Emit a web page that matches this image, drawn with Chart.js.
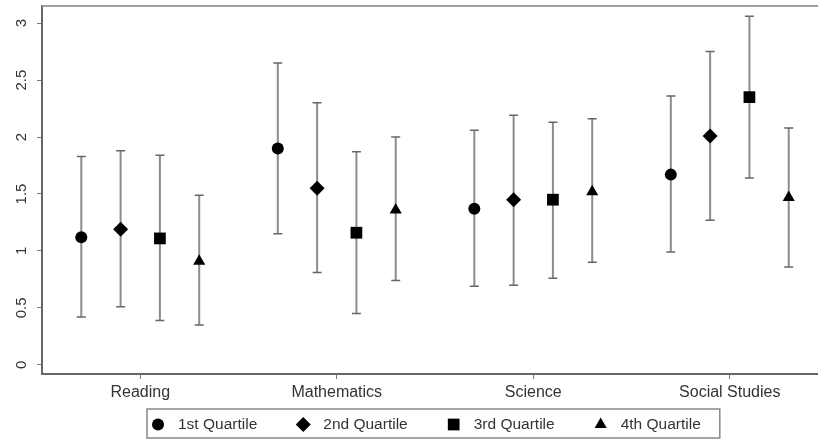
<!DOCTYPE html>
<html>
<head>
<meta charset="utf-8">
<script src="https://cdn.jsdelivr.net/npm/chart.js@4.4.0/dist/chart.umd.min.js"></script>
<style>
html, body { margin: 0; padding: 0; background: #fff; overflow: hidden; }
canvas { display: block; }
</style>
</head>
<body>
<canvas id="graficoQuartis" width="818" height="440"></canvas>
<script>
var categorias = ['Reading', 'Mathematics', 'Science', 'Social Studies'];
var quartis = ['1st Quartile', '2nd Quartile', '3rd Quartile', '4th Quartile'];

// estimativa e intervalo (baixo / alto) por quartil, na ordem das categorias
var q1Est = [1.12, 1.90, 1.37, 1.67];
var q1Low = [0.42, 1.15, 0.69, 0.99];
var q1High = [1.83, 2.65, 2.06, 2.36];

var q2Est = [1.19, 1.55, 1.45, 2.01];
var q2Low = [0.51, 0.81, 0.70, 1.27];
var q2High = [1.88, 2.30, 2.19, 2.75];

var q3Est = [1.11, 1.16, 1.45, 2.35];
var q3Low = [0.39, 0.45, 0.76, 1.64];
var q3High = [1.84, 1.87, 2.13, 3.06];

var q4Est = [0.91, 1.36, 1.52, 1.47];
var q4Low = [0.35, 0.74, 0.90, 0.86];
var q4High = [1.49, 2.00, 2.16, 2.08];

var yTicks = [0, 0.5, 1, 1.5, 2, 2.5, 3];
var yTickLabels = ['0', '0.5', '1', '1.5', '2', '2.5', '3'];

var estimativas = [q1Est, q2Est, q3Est, q4Est];
var baixos = [q1Low, q2Low, q3Low, q4Low];
var altos = [q1High, q2High, q3High, q4High];

var estilos = ['circle', 'rectRot', 'rect', 'triangle'];
var raios = [6, 7.5, 8.3, 7];

Chart.defaults.font.family = '"Liberation Sans", Arial, sans-serif';
Chart.defaults.color = '#333';

var datasets = quartis.map(function (nome, q) {
    return {
        label: nome,
        data: estimativas[q].map(function (v, i) {
            return { x: i + 1 + (q - 1.5) * 0.2, y: v };
        }),
        low: baixos[q],
        high: altos[q],
        pointStyle: estilos[q],
        pointRadius: raios[q],
        pointHoverRadius: raios[q],
        backgroundColor: '#000',
        borderColor: '#000',
        borderWidth: 0
    };
});

// barras de erro, desenhadas antes dos marcadores
var errorBars = {
    id: 'errorBars',
    beforeDatasetsDraw: function (chart) {
        var ctx = chart.ctx, x = chart.scales.x, y = chart.scales.y;
        ctx.save();
        chart.data.datasets.forEach(function (ds) {
            ds.data.forEach(function (p, i) {
                var px = x.getPixelForValue(p.x);
                var yl = y.getPixelForValue(ds.low[i]);
                var yh = y.getPixelForValue(ds.high[i]);
                ctx.strokeStyle = '#8c8c8c';
                ctx.lineWidth = 2;
                ctx.beginPath();
                ctx.moveTo(px, yl);
                ctx.lineTo(px, yh);
                ctx.stroke();
                ctx.strokeStyle = '#666';
                ctx.lineWidth = 1.5;
                ctx.beginPath();
                ctx.moveTo(px - 4.5, yl); ctx.lineTo(px + 4.5, yl);
                ctx.moveTo(px - 4.5, yh); ctx.lineTo(px + 4.5, yh);
                ctx.stroke();
            });
        });
        ctx.restore();
    }
};

// rótulos do eixo y girados, moldura superior e legenda com caixa
var extras = {
    id: 'extras',
    afterDraw: function (chart) {
        var ctx = chart.ctx, area = chart.chartArea, y = chart.scales.y;
        ctx.save();

        ctx.strokeStyle = '#a0a0a0';
        ctx.lineWidth = 2;
        ctx.beginPath();
        ctx.moveTo(area.left, area.top);
        ctx.lineTo(chart.width, area.top);
        ctx.stroke();

        ctx.fillStyle = '#333';
        ctx.font = '15px "Liberation Sans", Arial, sans-serif';
        ctx.textAlign = 'center';
        ctx.textBaseline = 'middle';
        yTicks.forEach(function (v, i) {
            ctx.save();
            ctx.translate(22, y.getPixelForValue(v));
            ctx.rotate(-Math.PI / 2);
            ctx.fillText(yTickLabels[i], 0, 0);
            ctx.restore();
        });

        // legenda
        ctx.font = '15.5px "Liberation Sans", Arial, sans-serif';
        ctx.textAlign = 'left';
        var larguras = quartis.map(function (t) { return ctx.measureText(t).width; });
        var total = 0;
        larguras.forEach(function (w, i) { total += 20 + w + (i < 3 ? 46 : 0); });
        var boxW = 11 + total + 19;
        var boxL = 147;
        var boxT = 409, boxH = 29;
        ctx.strokeStyle = '#888';
        ctx.lineWidth = 1.5;
        ctx.strokeRect(boxL, boxT, boxW, boxH);
        var cx = boxL + 11, cy = boxT + boxH / 2 + 1;
        chart.data.datasets.forEach(function (ds, i) {
            ctx.fillStyle = '#000';
            Chart.helpers.drawPoint(ctx, { pointStyle: ds.pointStyle, radius: ds.pointRadius, borderWidth: 0 }, cx, cy);
            ctx.fillStyle = '#333';
            ctx.fillText(ds.label, cx + 20, cy);
            cx += 20 + larguras[i] + 46;
        });
        ctx.restore();
    }
};

var grafico = new Chart(document.getElementById('graficoQuartis'), {
    type: 'scatter',
    data: { datasets: datasets },
    options: {
        responsive: false,
        animation: false,
        layout: { autoPadding: false, padding: { top: 6, bottom: 32, left: 0, right: 0 } },
        scales: {
            x: {
                type: 'linear',
                min: 0.5,
                max: 4.449,
                afterBuildTicks: function (scale) {
                    scale.ticks = categorias.map(function (c, i) { return { value: i + 1 }; });
                },
                afterFit: function (scale) { scale.height = 34; },
                ticks: {
                    font: { size: 16 },
                    padding: 4,
                    autoSkip: false,
                    maxRotation: 0,
                    callback: function (v) { return categorias[Math.round(v) - 1]; }
                },
                grid: { drawOnChartArea: false, tickLength: 5, color: '#777' },
                border: { color: '#666', width: 2 }
            },
            y: {
                min: -0.08,
                max: 3.15,
                afterBuildTicks: function (scale) {
                    scale.ticks = yTicks.map(function (v) { return { value: v }; });
                },
                afterFit: function (scale) { scale.width = 42; },
                ticks: { display: false },
                grid: { drawOnChartArea: false, tickLength: 5, color: '#777' },
                border: { color: '#666', width: 2 }
            }
        },
        plugins: {
            legend: { display: false },
            tooltip: { enabled: false }
        }
    },
    plugins: [errorBars, extras]
});
</script>
</body>
</html>
